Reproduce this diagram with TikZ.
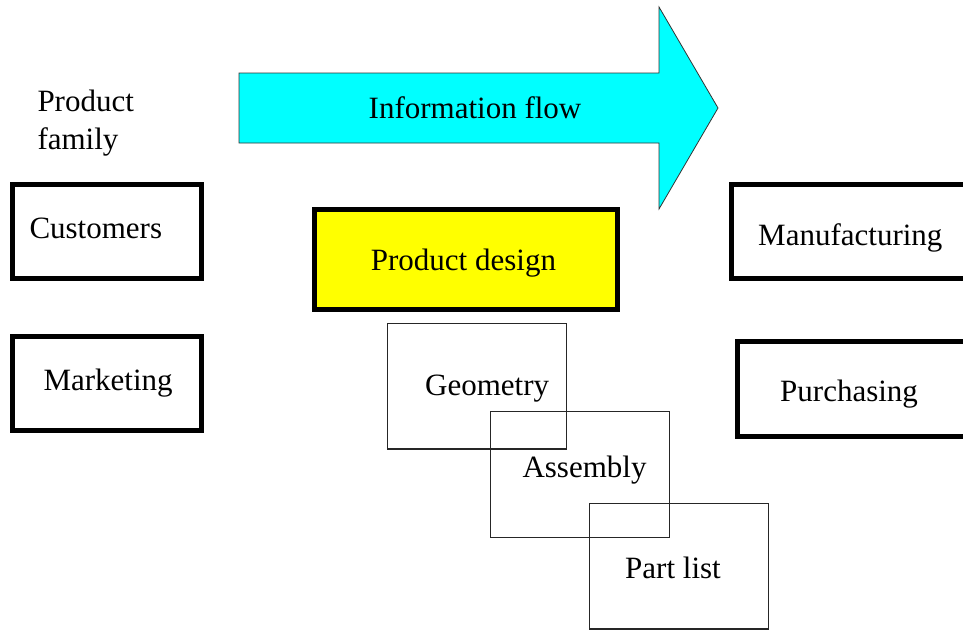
\documentclass[tikz,border=0pt]{standalone}
\usepackage{fontspec}
\setmainfont{Liberation Serif}
\definecolor{flowcyan}{RGB}{0,255,255}
\definecolor{designyellow}{RGB}{255,255,0}
\begin{document}
\begin{tikzpicture}[x=1pt,y=-1pt,
  lbl/.style={inner sep=0pt,anchor=base west,font=\fontsize{31}{36}\selectfont},
  thickbox/.style={draw=black,line width=5pt,rectangle,inner sep=0pt},
  thinbox/.style={draw=black!85,line width=1.3pt,rectangle,inner sep=0pt}]
\useasboundingbox (0,0) rectangle (963,630);
\clip (0,0) rectangle (963,630);
\fill[white] (0,0) rectangle (963,630);

% information flow arrow
\draw[fill=flowcyan,draw=black!80,line width=0.8pt]
  (239,73) -- (659,73) -- (659,7) -- (718,108) -- (659,209) -- (659,143) -- (239,143) -- cycle;
\node[lbl] (flow) at (368.5,118.3) {Information flow};

% product family heading
\node[lbl] (pf1) at (37.3,111.7) {Product};
\node[lbl] (pf2) at (37.3,149.3) {family};

% departments
\node[thickbox,minimum width=189,minimum height=94.5] (custbox) at (107,231.25) {};
\node[lbl] (cust) at (29.3,238.3) {Customers};
\node[thickbox,minimum width=189,minimum height=94] (mktbox) at (107,383) {};
\node[lbl] (mkt) at (43.3,390) {Marketing};
\node[thickbox,fill=designyellow,minimum width=303,minimum height=100] (pdbox) at (465.5,259.5) {};
\node[lbl] (pd) at (370.7,270) {Product design};
\node[thickbox,minimum width=260,minimum height=94.5] (mfgbox) at (861.5,231.25) {};
\node[lbl] (mfg) at (758,245) {Manufacturing};
\node[thickbox,minimum width=260,minimum height=95] (purbox) at (867,389.2) {};
\node[lbl] (pur) at (780,401.5) {Purchasing};

% overlapping product model views
\node[thinbox,minimum width=179.4,minimum height=125.7] (geobox) at (477,386.2) {};
\node[lbl] (geo) at (425,395) {Geometry};
\node[thinbox,minimum width=178.6,minimum height=126] (asmbox) at (580,474.7) {};
\node[lbl] (asm) at (522.3,477.7) {Assembly};
\node[thinbox,minimum width=179,minimum height=125.7] (plbox) at (678.8,566.2) {};
\node[lbl] (pl) at (625,578.3) {Part list};
\end{tikzpicture}
\end{document}
